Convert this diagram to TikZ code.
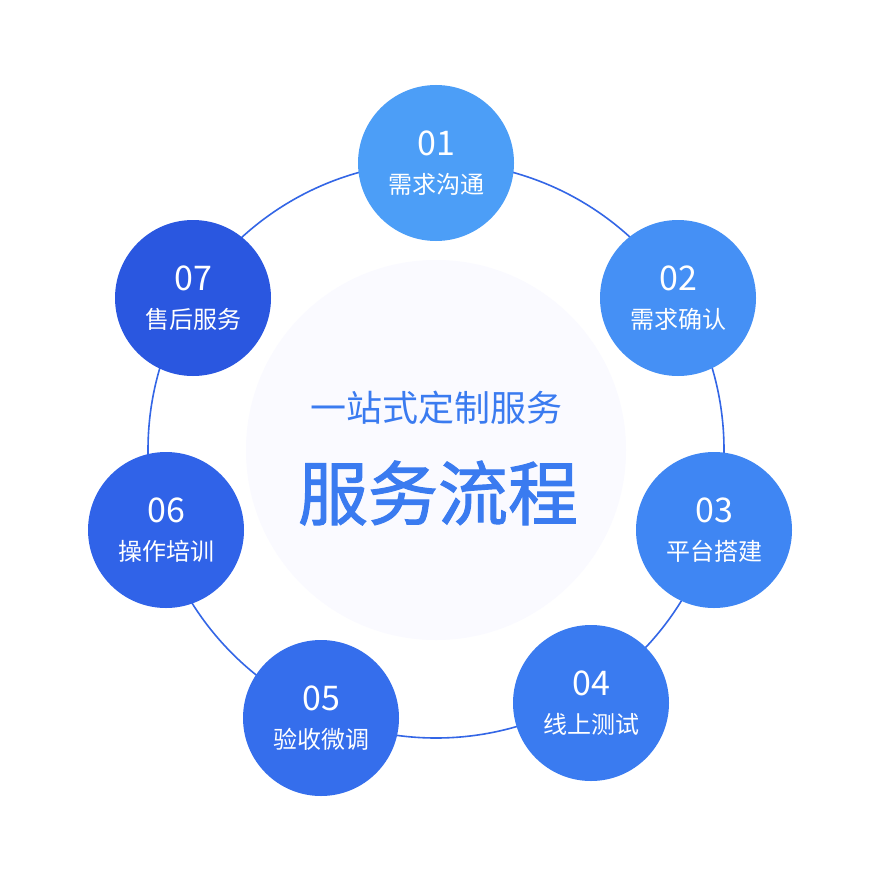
\documentclass[tikz,border=0pt]{standalone}
\usepackage{fontspec}
\setmainfont{Noto Sans CJK SC}
\newfontfamily\cjkbold[FakeBold=1.5]{Noto Sans CJK SC}
\definecolor{ringblue}{HTML}{3366E6}
\definecolor{titleblue}{HTML}{3A7BF0}
\tikzset{
  step circle/.style={circle,minimum size=156pt,inner sep=0pt,text=white,align=center,font=\fontsize{24}{34}\selectfont},
  num/.style={font=\fontsize{34}{34}\selectfont}
}
\begin{document}
\begin{tikzpicture}[x=1pt,y=-1pt]
  \useasboundingbox[fill=white] (0,0) rectangle (880,880);
  % faint glow and ring
  \fill[blue!2] (436,450) circle (190);
  \node[circle,minimum size=576pt,draw=ringblue,line width=1.6pt] (ring) at (436,450) {};
  % steps
  \node[step circle,fill={rgb,255:red,76;green,158;blue,247}] (s1) at (436,163) {{\fontsize{34}{34}\selectfont 01}\\[4pt]需求沟通};
  \node[step circle,fill={rgb,255:red,69;green,144;blue,245}] (s2) at (678,298) {{\fontsize{34}{34}\selectfont 02}\\[4pt]需求确认};
  \node[step circle,fill={rgb,255:red,63;green,134;blue,243}] (s3) at (714,530) {{\fontsize{34}{34}\selectfont 03}\\[4pt]平台搭建};
  \node[step circle,fill={rgb,255:red,58;green,123;blue,240}] (s4) at (591,703) {{\fontsize{34}{34}\selectfont 04}\\[4pt]线上测试};
  \node[step circle,fill={rgb,255:red,53;green,110;blue,236}] (s5) at (321,718) {{\fontsize{34}{34}\selectfont 05}\\[4pt]验收微调};
  \node[step circle,fill={rgb,255:red,48;green,99;blue,232}] (s6) at (166,530) {{\fontsize{34}{34}\selectfont 06}\\[4pt]操作培训};
  \node[step circle,fill={rgb,255:red,42;green,87;blue,224}] (s7) at (193,298) {{\fontsize{34}{34}\selectfont 07}\\[4pt]售后服务};
  % title
  \node[text=titleblue,font=\fontsize{36}{36}\selectfont] (sub) at (436,408) {一站式定制服务};
  \node[text=titleblue,font=\cjkbold\fontsize{70}{70}\selectfont] (title) at (438,493) {服务流程};
\end{tikzpicture}
\end{document}
